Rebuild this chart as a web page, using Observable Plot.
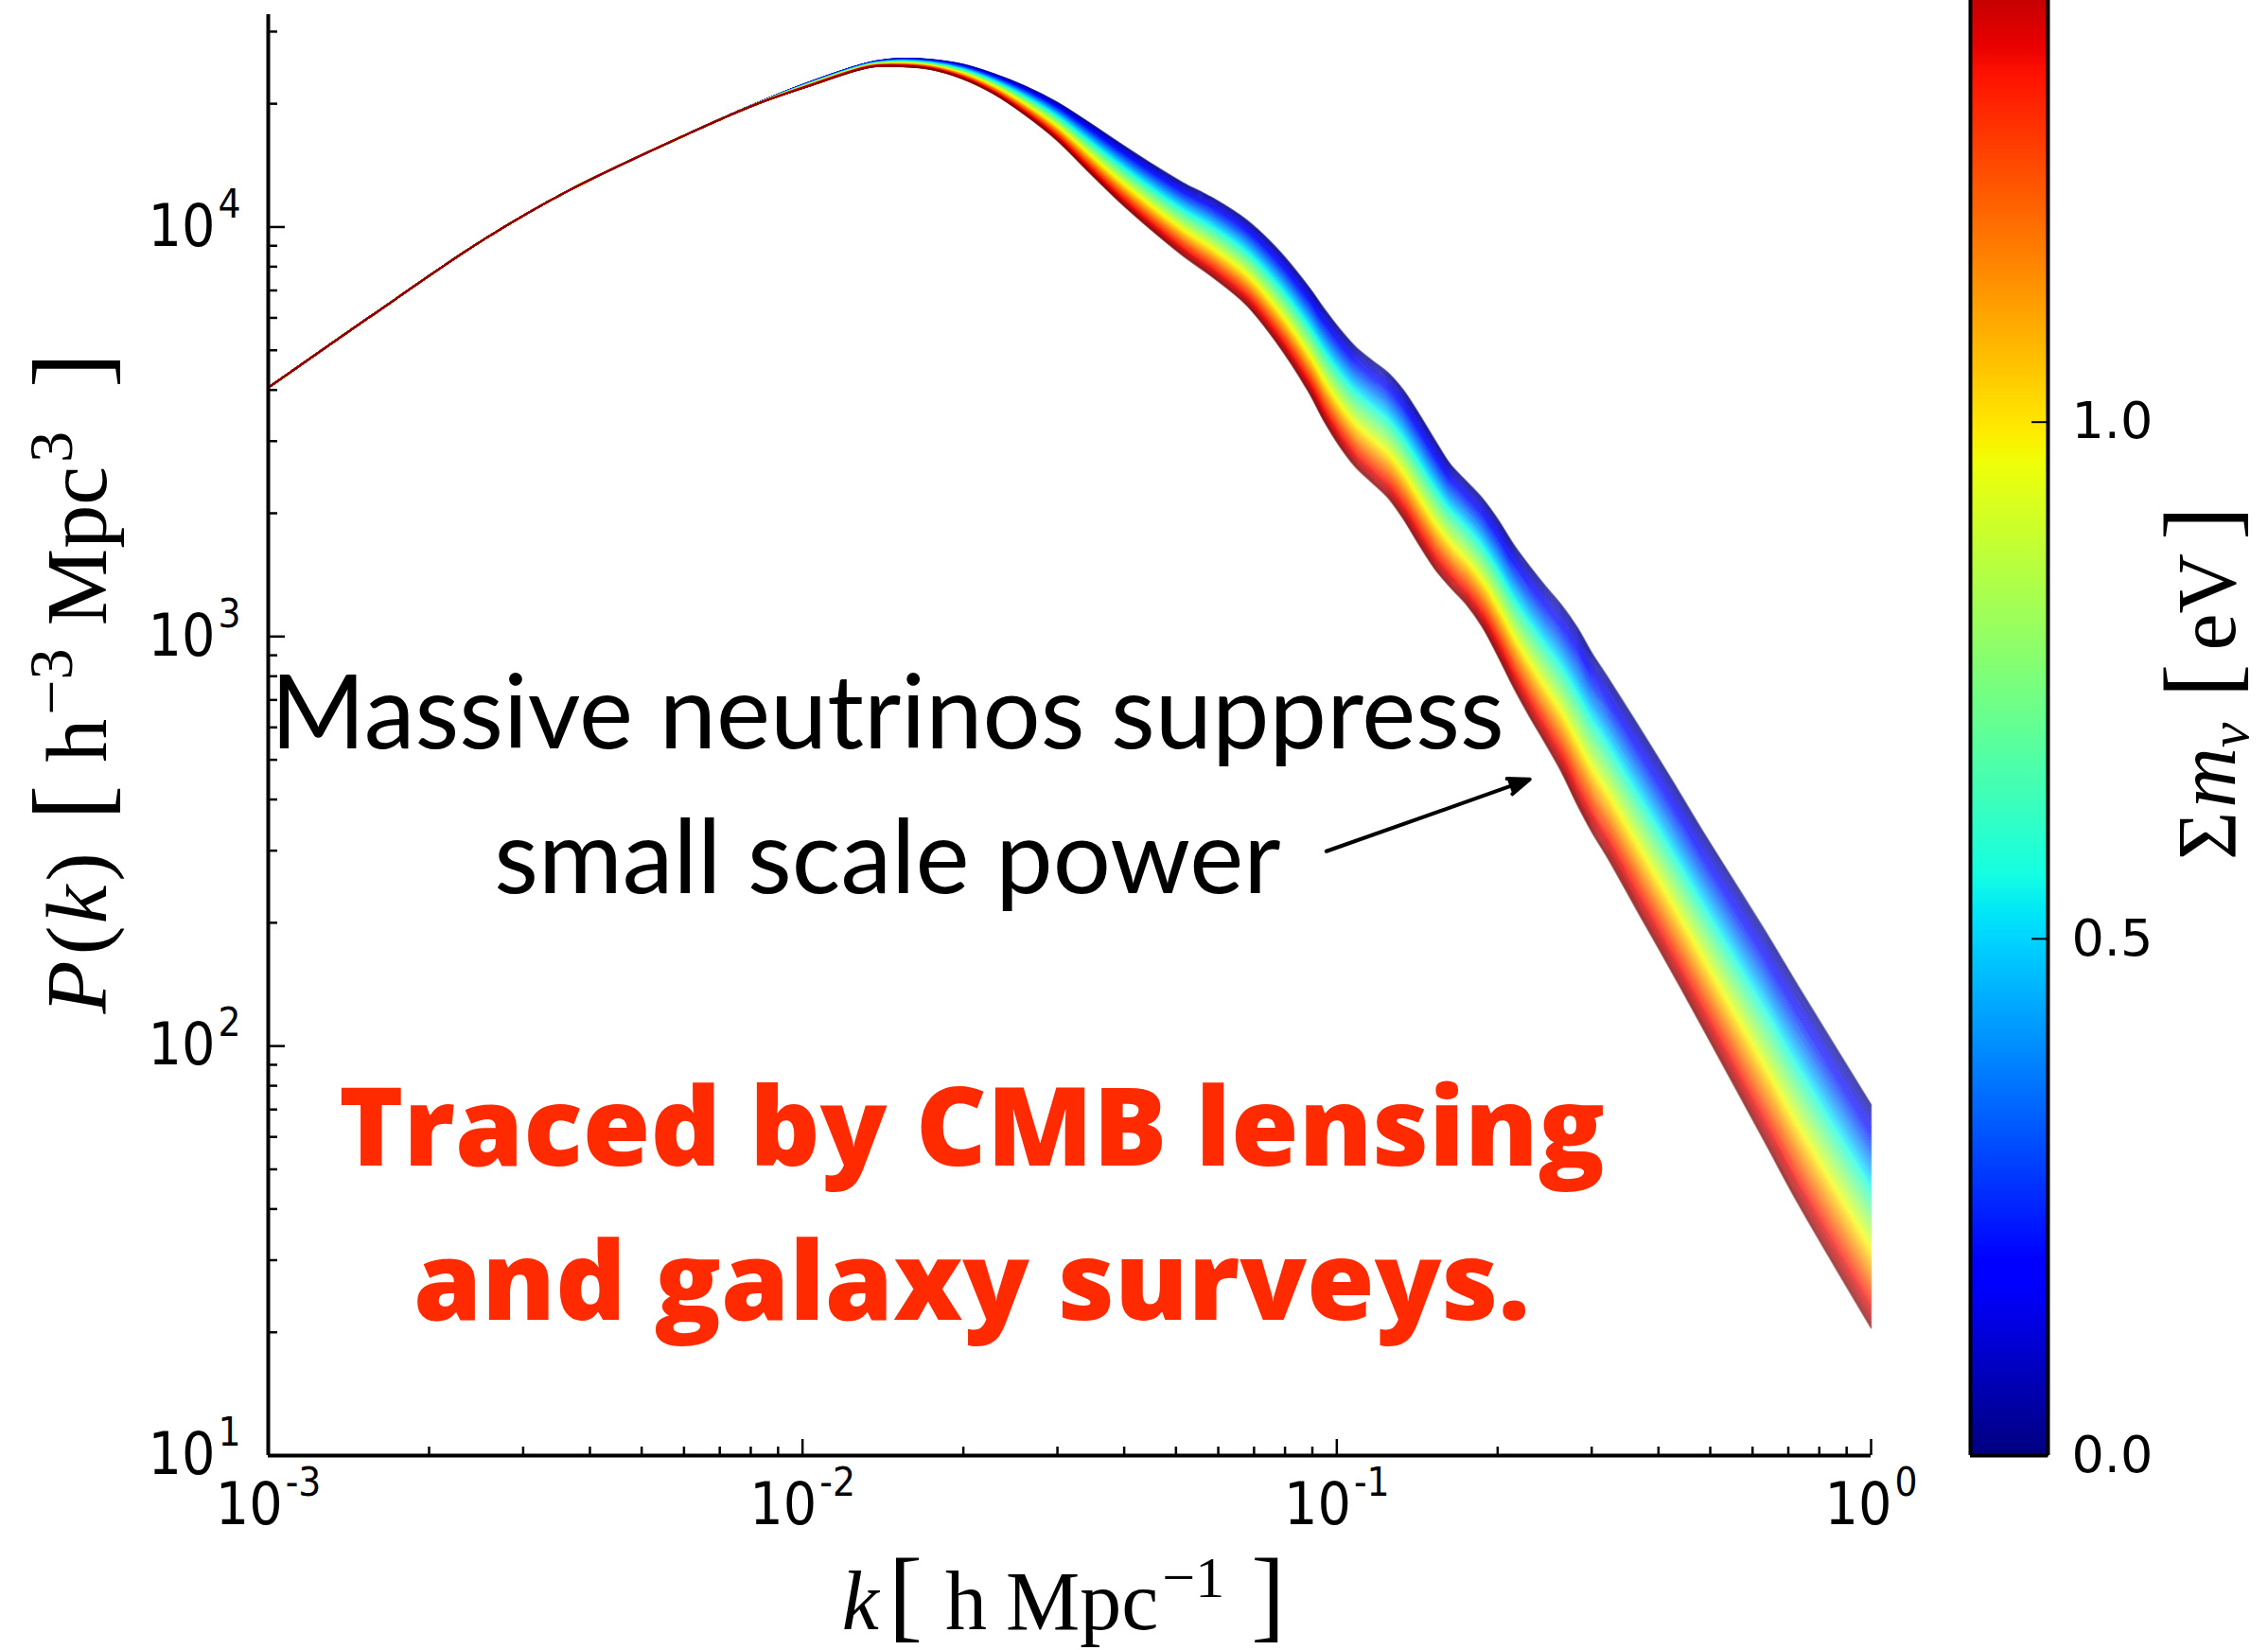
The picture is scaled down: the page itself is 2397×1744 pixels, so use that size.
<!DOCTYPE html>
<html>
<head>
<meta charset="utf-8">
<script src="https://cdn.jsdelivr.net/npm/d3@7"></script>
<script src="https://cdn.jsdelivr.net/npm/@observablehq/plot@0.6"></script>
<style>
  html, body { margin: 0; padding: 0; background: #fff; }
  #wrap { position: relative; width: 2397px; height: 1744px; overflow: hidden; background: #fff; }
  #wrap svg { position: absolute; left: 0; top: 0; }
</style>
</head>
<body>
<div id="wrap"></div>
<script>
// ---------------- data ----------------
// wavenumber k [h/Mpc]
const kGrid = [0.001, 0.001534, 0.002522, 0.00364, 0.006131, 0.008222, 0.01029, 0.01336, 0.01516, 0.01734,
  0.01991, 0.02278, 0.02605, 0.02992, 0.03423, 0.03916, 0.04497, 0.05145, 0.05887, 0.06761,
  0.07734, 0.08849, 0.09484, 0.1016, 0.1085, 0.1163, 0.1246, 0.133, 0.1426, 0.1528,
  0.1631, 0.1748, 0.1873, 0.2, 0.2143, 0.2297, 0.2451, 0.2627, 0.2815, 0.3005,
  0.3221, 0.3684, 0.4231, 0.4842, 0.6361, 0.7275, 1.0];
// P(k) for the massless case (upper, blue edge of the band)
const pMassless = [4050, 5980, 9290, 12250, 16930, 20070, 22560, 25220, 25770, 25630,
  24960, 23660, 22090, 20180, 18050, 16050, 14280, 12840, 11730, 10430,
  8849, 7153, 6297, 5603, 5090, 4724, 4410, 4007, 3489, 3007,
  2633, 2392, 2174, 1934, 1675, 1482, 1332, 1198, 1055, 908.8,
  791.3, 600.1, 448.0, 334.4, 189.3, 141.3, 71.9];
// P(k) for the heaviest case (lower, red edge of the band)
const pHeaviest = [4050, 5980, 9290, 12250, 16930, 19970, 22090, 24560, 24690, 24300,
  23040, 21170, 18830, 16310, 13690, 11540, 9842, 8525, 7506, 6466,
  5199, 3965, 3344, 2896, 2591, 2379, 2185, 1944, 1675, 1459,
  1319, 1198, 1055, 899.3, 750.6, 636.4, 551.2, 469.9, 390.1, 332.6,
  286.6, 209.4, 152.2, 110.6, 57.5, 41.6, 20.5];
// Σm_ν [eV] of the curves drawn, and colour-bar range
const massMax = 1.5;
const massValues = d3.range(150).map(i => +(i * massMax / 149).toFixed(4));
const colorbarTicks = [0, 0.5, 1.0];
// axes
const xDomain = [1e-3, 1];
const yDomain = [10, 3.3e4];
const xMajor = [1e-3, 1e-2, 1e-1, 1];
const xTickLabels = ["10^-3", "10^-2", "10^-1", "10^0"];
const yMajor = [1e1, 1e2, 1e3, 1e4];
const yTickLabels = ["10^1", "10^2", "10^3", "10^4"];
// annotations
const noteLines = ["Massive neutrinos suppress", "small scale power"];
const noteAnchor = {k: 0.01442, P: 236.6};
const arrowSpec = {k1: 0.0956, P1: 299, k2: 0.2296, P2: 448};
const redLines = ["Traced by CMB lensing", "and galaxy surveys."];
const redAnchor = {k: 0.02074, P: 21.5};

// ---------------- helpers ----------------
function minorTicks(lo, hi) {
  const out = [];
  for (let e = Math.floor(Math.log10(lo)); e <= Math.ceil(Math.log10(hi)); e++) {
    for (let m = 2; m <= 9; m++) {
      const v = m * Math.pow(10, e);
      if (v > lo * 1.0001 && v < hi * 0.9999) out.push(v);
    }
  }
  return out;
}
// matplotlib "jet" colormap
function jet(t) {
  const R = [[0, 0], [0.35, 0], [0.66, 1], [0.89, 1], [1, 0.5]];
  const G = [[0, 0], [0.125, 0], [0.375, 1], [0.64, 1], [0.91, 0], [1, 0]];
  const B = [[0, 0.5], [0.11, 1], [0.34, 1], [0.65, 0], [1, 0]];
  const f = (pts) => {
    const u = Math.max(0, Math.min(1, t));
    for (let i = 1; i < pts.length; i++) {
      if (u <= pts[i][0]) {
        const [x0, y0] = pts[i - 1], [x1, y1] = pts[i];
        return y0 + (y1 - y0) * (u - x0) / (x1 - x0);
      }
    }
    return pts[pts.length - 1][1];
  };
  return `rgb(${Math.round(255 * f(R))},${Math.round(255 * f(G))},${Math.round(255 * f(B))})`;
}

// family of curves: each Σm_ν lies between the two read edges (log-space)
const curveRows = [];
for (const m of massValues) {
  const w = m / massMax;
  kGrid.forEach((k, i) => {
    const lp = Math.log10(pMassless[i]) * (1 - w) + Math.log10(pHeaviest[i]) * w;
    curveRows.push({k, P: Math.pow(10, lp), m});
  });
}

const tickFont = '"DejaVu Sans Condensed", "DejaVu Sans", sans-serif';
const serif = '"Liberation Serif", "DejaVu Serif", serif';

const main = Plot.plot({
  width: 2397, height: 1744,
  marginLeft: 283, marginRight: 420, marginTop: 15, marginBottom: 206,
  style: {background: "white", maxWidth: "none", fontFamily: tickFont, color: "black"},
  x: {type: "log", domain: xDomain, axis: null},
  y: {type: "log", domain: yDomain, axis: null},
  color: {type: "linear", domain: [0, massMax], interpolate: jet},
  marks: [
    Plot.line(curveRows, {x: "k", y: "P", z: "m", stroke: "m", strokeWidth: 1.8, strokeOpacity: 0.45, curve: "catmull-rom"}),
    Plot.ruleX([xDomain[0]], {stroke: "black", strokeWidth: 4}),
    Plot.ruleY([yDomain[0]], {stroke: "black", strokeWidth: 4}),
    Plot.axisX({ticks: minorTicks(xDomain[0], xDomain[1]), anchor: "bottom", tickSize: -9, strokeWidth: 2.5, tickFormat: () => "", label: null}),
    Plot.axisX({ticks: xMajor, anchor: "bottom", tickSize: -17, tickPadding: 45, strokeWidth: 2.5,
      tickFormat: d => xTickLabels[xMajor.findIndex(v => Math.abs(v - d) < v * 1e-6)], label: null,
      fontSize: 62, fontFamily: tickFont}),
    Plot.axisY({ticks: minorTicks(yDomain[0], yDomain[1]), anchor: "left", tickSize: -10, strokeWidth: 2.5, tickFormat: () => "", label: null}),
    Plot.axisY({ticks: yMajor, anchor: "left", tickSize: -18, tickPadding: 47, strokeWidth: 2.5,
      tickFormat: d => yTickLabels[yMajor.findIndex(v => Math.abs(v - d) < v * 1e-6)], label: null,
      fontSize: 62, fontFamily: tickFont}),
    Plot.text([{...noteAnchor, text: noteLines.join("\n")}], {x: "k", y: "P", text: "text",
      fontFamily: "Lato, 'Open Sans', sans-serif", fontSize: 108, lineAnchor: "bottom", lineHeight: 153 / 108,
      textAnchor: "middle", fill: "black"}),
    Plot.arrow([arrowSpec], {x1: "k1", y1: "P1", x2: "k2", y2: "P2", stroke: "black", fill: "black",
      strokeWidth: 4, strokeLinejoin: "miter", headLength: 9, headAngle: 42}),
    Plot.text([{...redAnchor, text: redLines.join("\n")}], {x: "k", y: "P", text: "text",
      fontFamily: "'Open Sans', Lato, sans-serif", fontWeight: 800, fontSize: 116, lineAnchor: "bottom",
      lineHeight: 163 / 116, textAnchor: "middle", fill: "#ff2a00"})
  ]
});

// colour bar (legend) overlay
const cbStep = 0.002;
const cbSteps = d3.range(0, 1.41, cbStep);
const cbar = Plot.plot({
  width: 2397, height: 1744,
  marginLeft: 2082, marginRight: 233, marginTop: 0, marginBottom: 206,
  style: {background: "transparent", maxWidth: "none", color: "black"},
  x: {domain: [0, 1], axis: null},
  y: {domain: [0, 1.408], axis: null},
  color: {type: "linear", domain: [0, massMax], interpolate: jet},
  marks: [
    Plot.rect(cbSteps, {y1: d => d, y2: d => d + cbStep * 1.6, fill: d => d + cbStep / 2}),
    Plot.ruleX([0, 1], {stroke: "black", strokeWidth: 4}),
    Plot.ruleY([0], {stroke: "black", strokeWidth: 4}),
    Plot.axisY({ticks: colorbarTicks, anchor: "right", tickSize: -18, tickPadding: 43, strokeWidth: 2,
      tickFormat: d3.format(".1f"), label: null, fontSize: 54, fontFamily: '"DejaVu Sans", sans-serif'})
  ]
});

const wrap = document.getElementById("wrap");
wrap.appendChild(main);
wrap.appendChild(cbar);

// superscripts in tick labels
const NS = "http://www.w3.org/2000/svg";
function supify(svg, supSize, supDy) {
  svg.querySelectorAll('g[aria-label$="tick label"] text').forEach(t => {
    const m = (t.textContent || "").match(/^(\d+)\^(.+)$/);
    if (!m) return;
    t.textContent = "";
    const a = document.createElementNS(NS, "tspan");
    a.textContent = m[1];
    const b = document.createElementNS(NS, "tspan");
    b.textContent = m[2];
    b.setAttribute("font-size", supSize);
    b.setAttribute("dy", supDy);
    b.setAttribute("dx", 3);
    t.appendChild(a); t.appendChild(b);
  });
}
supify(main, 42, -30);

function mathText(svg, {x, y, rotate = 0, anchor = "middle", size, family}, parts) {
  const t = document.createElementNS(NS, "text");
  t.setAttribute("transform", `translate(${x},${y}) rotate(${rotate})`);
  t.setAttribute("text-anchor", anchor);
  t.setAttribute("font-family", family);
  t.setAttribute("font-size", size);
  t.setAttribute("fill", "black");
  t.setAttribute("style", "white-space: pre");
  for (const p of parts) {
    const s = document.createElementNS(NS, "tspan");
    s.textContent = p.t;
    if (p.italic) s.setAttribute("font-style", "italic");
    if (p.size) s.setAttribute("font-size", p.size);
    if (p.dy) s.setAttribute("dy", p.dy);
    if (p.dx) s.setAttribute("dx", p.dx);
    t.appendChild(s);
  }
  svg.appendChild(t);
}

// x label: k [h Mpc^-1]
mathText(main, {x: 1124, y: 1722, size: 88, family: serif}, [
  {t: "k", italic: true},
  {t: "[", size: 108, dx: 10},
  {t: "h", dx: 24},
  {t: "Mpc", dx: 20},
  {t: "\u22121", size: 62, dy: -34, dx: 4},
  {t: "]", size: 108, dy: 34, dx: 28}
]);
// y label: P(k) [h^-3 Mpc^3]
mathText(main, {x: 112, y: 722, rotate: -90, size: 92, family: serif}, [
  {t: "P", italic: true},
  {t: "(", dx: 6},
  {t: "k", italic: true, dx: 2},
  {t: ")", dx: 4},
  {t: "[", size: 112, dx: 34},
  {t: "h", dx: 24},
  {t: "\u22123", size: 66, dy: -36, dx: 4},
  {t: "Mpc", dy: 36, dx: 24},
  {t: "3", size: 66, dy: -36, dx: 4},
  {t: "]", size: 112, dy: 36, dx: 46}
]);
// colour-bar label: Σm_ν [eV]
mathText(cbar, {x: 2362, y: 722, rotate: -90, size: 88, family: serif}, [
  {t: "\u03A3"},
  {t: "m", italic: true, dx: 4},
  {t: "\u03BD", italic: true, size: 60, dy: 14},
  {t: "[", size: 108, dy: -14, dx: 26},
  {t: "eV", dx: 14},
  {t: "]", size: 108, dx: 14}
]);
</script>
</body>
</html>
